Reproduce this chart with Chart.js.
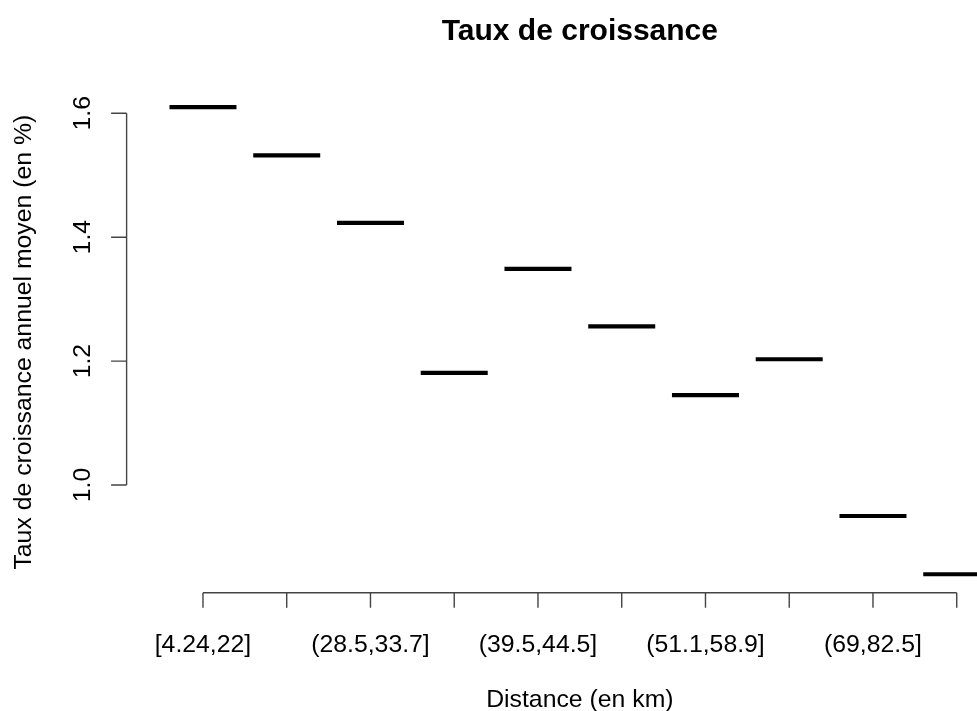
<!DOCTYPE html>
<html>
<head>
<meta charset="utf-8">
<script src="https://cdn.jsdelivr.net/npm/chart.js@4"></script>
<style>
  html, body { margin: 0; padding: 0; background: #fff; overflow: hidden; }
  canvas { display: block; }
</style>
</head>
<body>
<canvas id="chart" width="1040" height="711"></canvas>
<script>
/* ---------- data ---------- */
// class labels under the ticks (R skipped every other one)
const xLabels = ['[4.24,22]', '', '(28.5,33.7]', '', '(39.5,44.5]', '',
                 '(51.1,58.9]', '', '(69,82.5]', ''];
// median growth rate per distance class (%)
const rates   = [1.610, 1.532, 1.423, 1.181, 1.349, 1.256, 1.145, 1.203, 0.950, 0.856];
const yTicks  = [1.0, 1.2, 1.4, 1.6];

const title  = 'Taux de croissance';
const xTitle = 'Distance (en km)';
const yTitle = 'Taux de croissance annuel moyen (en %)';

const FONT = '"Liberation Sans", Arial, Helvetica, sans-serif';

/* ---------- R-like axes, drawn from the chart scales ---------- */
const rAxes = {
  id: 'rAxes',
  afterDraw(chart) {
    const { ctx, chartArea: a, scales: { x, y } } = chart;
    ctx.save();
    ctx.strokeStyle = '#444';
    ctx.lineWidth = 1.4;
    ctx.fillStyle = '#000';

    // x axis
    const x0 = x.getPixelForValue(1), x1 = x.getPixelForValue(xLabels.length);
    ctx.beginPath();
    ctx.moveTo(x0, a.bottom); ctx.lineTo(x1, a.bottom);
    xLabels.forEach((_, i) => {
      const px = x.getPixelForValue(i + 1);
      ctx.moveTo(px, a.bottom); ctx.lineTo(px, a.bottom + 15);
    });
    ctx.stroke();

    ctx.font = '24.8px ' + FONT;
    ctx.textAlign = 'center';
    ctx.textBaseline = 'alphabetic';
    xLabels.forEach((lab, i) => {
      if (lab) ctx.fillText(lab, x.getPixelForValue(i + 1), a.bottom + 59);
    });

    // y axis (sits a bit left of the plot region, as in the original)
    const ax = a.left - 34.5;
    ctx.beginPath();
    ctx.moveTo(ax, y.getPixelForValue(yTicks[0]));
    ctx.lineTo(ax, y.getPixelForValue(yTicks[yTicks.length - 1]));
    yTicks.forEach(v => {
      const py = y.getPixelForValue(v);
      ctx.moveTo(ax, py); ctx.lineTo(ax - 15.5, py);
    });
    ctx.stroke();

    yTicks.forEach(v => {
      ctx.save();
      ctx.translate(ax - 36.5, y.getPixelForValue(v));
      ctx.rotate(-Math.PI / 2);
      ctx.fillText(v.toFixed(1), 0, 0);
      ctx.restore();
    });

    // titles
    const cx = (a.left + a.right) / 2;
    ctx.fillText(xTitle, cx, 707);

    ctx.save();
    ctx.translate(31, (a.top + a.bottom) / 2 + 1.5);
    ctx.rotate(-Math.PI / 2);
    ctx.fillText(yTitle, 0, 0);
    ctx.restore();

    ctx.font = 'bold 30px ' + FONT;
    ctx.fillText(title, cx, 39.5);
    ctx.restore();
  }
};

/* ---------- chart ---------- */
new Chart(document.getElementById('chart'), {
  type: 'scatter',
  data: {
    datasets: [{
      data: rates.map((v, i) => ({ x: i + 1, y: v })),
      pointStyle: 'line',
      pointRadius: 33.5,
      pointHoverRadius: 33.5,
      pointBorderWidth: 4.2,
      pointHoverBorderWidth: 4.2,
      borderColor: '#000',
      backgroundColor: '#000'
    }]
  },
  options: {
    responsive: false,
    animation: false,
    events: [],
    layout: { padding: { left: 161.1, right: 41.4, top: 88.6, bottom: 118.3 } },
    plugins: { legend: { display: false }, tooltip: { enabled: false } },
    scales: {
      x: { type: 'linear', min: 0.5, max: 10.5, display: false },
      y: { type: 'linear', min: 0.8262, max: 1.6398, display: false }
    }
  },
  plugins: [rAxes]
});
</script>
</body>
</html>
